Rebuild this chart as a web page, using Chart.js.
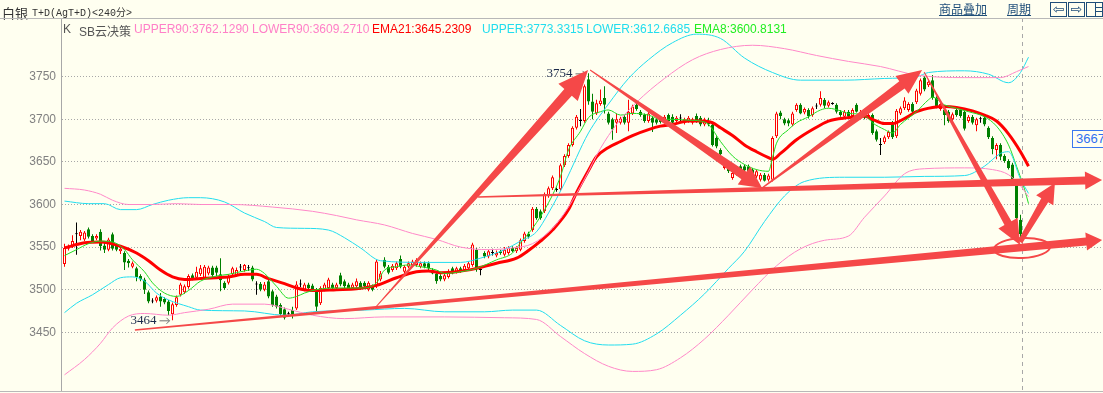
<!DOCTYPE html>
<html>
<head>
<meta charset="utf-8">
<script src="https://cdn.jsdelivr.net/npm/chart.js@4"></script>
<style>
  body { margin: 0; background: #FFFFF0; overflow: hidden; }
  #wrap { position: relative; width: 1103px; height: 393px; background: #FFFFF0; }
  canvas { position: absolute; left: 0; top: 0; }
  .t { position: absolute; white-space: nowrap; line-height: 1; }
  .lg { position: absolute; top: 22px; white-space: nowrap; line-height: 1; font: 12px "Liberation Sans", Arial, sans-serif; }
  .lk { position: absolute; top: 3px; font: 12px "Noto Sans CJK SC", sans-serif; color: #1F4E79; text-decoration: underline; line-height: 1; }
  .ic { position: absolute; top: 2px; width: 15px; height: 13px; border: 1px solid #1F4E79; color: #1F4E79;
        font: 14px "DejaVu Sans", sans-serif; line-height: 13px; text-align: center; }
</style>
</head>
<body>
<div id="wrap">
  <canvas id="myChart" width="1103" height="393"></canvas>

  <div class="t" style="left:2px;top:3px;font:13px 'Noto Sans CJK SC',sans-serif;color:#333">白银</div>
  <div class="t" style="left:32px;top:4px;font:10px 'Liberation Mono','Noto Sans CJK SC',monospace;color:#333">T+D(AgT+D)&lt;240分&gt;</div>
  <div class="lk" style="left:939px">商品叠加</div>
  <div class="lk" style="left:1007px">周期</div>
  <div class="ic" style="left:1050px">⇦</div>
  <div class="ic" style="left:1068px">⇨</div>
  <div class="ic" style="left:1086px">
    <div style="position:absolute;left:8px;top:0;width:1px;height:13px;background:#1F4E79"></div>
    <div style="position:absolute;left:9px;top:4px;width:6px;height:1px;background:#1F4E79"></div>
    <div style="position:absolute;left:9px;top:8px;width:6px;height:1px;background:#1F4E79"></div>
  </div>
  <div style="position:absolute;left:0;top:18px;width:1103px;height:1px;background:#B8B8B8"></div>
  <div style="position:absolute;left:0;top:391px;width:1103px;height:1px;background:#B8B8B8"></div>

  <div class="lg" style="left:63px;color:#555">K</div>
  <div class="lg" style="left:79px;color:#555;font-family:'Liberation Sans','Noto Sans CJK SC',sans-serif">SB云决策</div>
  <div class="lg" style="left:134px;color:#FF80C8">UPPER90:3762.1290</div>
  <div class="lg" style="left:252px;color:#FF80C8">LOWER90:3609.2710</div>
  <div class="lg" style="left:372px;color:#FF0000">EMA21:3645.2309</div>
  <div class="lg" style="left:482px;color:#22DDEE">UPPER:3773.3315</div>
  <div class="lg" style="left:586px;color:#22DDEE">LOWER:3612.6685</div>
  <div class="lg" style="left:694px;color:#22EE22">EMA8:3600.8131</div>

  <div class="t" style="left:1072px;top:130px;width:34px;height:16px;border:1px solid #3A78F0;color:#2F6FF0;font:13px 'Liberation Sans',Arial,sans-serif;line-height:16px;padding-left:3px;background:#FFFFF0">3667</div>
</div>

<script>
// 240分 K线 (240 candles)
const openP = [
  3530,3548,3551,3565,3563,3559,3571,3563,3560,3568,3552,3547,3565,3552,3545,3543,3534,3527,3525,3516,
  3512,3497,3486,3487,3492,3489,3486,3471,3482,3494,3497,3503,3517,3514,3518,3514,3519,3526,3526,3518,
  3508,3508,3518,3517,3526,3523,3525,3526,3506,3507,3500,3510,3498,3492,3482,3477,3471,3476,3478,3506,
  3500,3506,3505,3500,3484,3500,3502,3506,3502,3517,3510,3506,3502,3504,3508,3508,3500,3504,3504,3512,
  3535,3527,3523,3525,3536,3521,3527,3529,3529,3527,3531,3531,3523,3519,3516,3512,3515,3525,3521,3525,
  3523,3525,3529,3547,3523,3543,3539,3543,3540,3545,3541,3543,3549,3545,3547,3557,3566,3570,3595,3592,
  3592,3610,3619,3617,3618,3646,3657,3670,3690,3698,3698,3747,3721,3707,3718,3725,3707,3700,3696,3696,
  3703,3696,3707,3717,3709,3705,3698,3702,3700,3702,3698,3705,3703,3698,3701,3696,3698,3696,3704,3702,
  3694,3698,3694,3678,3664,3643,3645,3631,3643,3645,3645,3645,3641,3633,3629,3635,3629,3629,3680,3708,
  3700,3699,3694,3711,3717,3708,3711,3705,3715,3717,3723,3716,3718,3717,3709,3703,3709,3704,3717,3705,
  3708,3702,3705,3686,3670,3673,3679,3696,3680,3707,3713,3711,3718,3720,3730,3749,3740,3746,3725,3712,
  3711,3709,3700,3711,3711,3709,3698,3703,3693,3700,3702,3690,3678,3664,3670,3657,3651,3647,3625,3582
];
const highP = [
  3554,3553,3564,3579,3570,3569,3573,3565,3565,3571,3555,3561,3567,3554,3550,3545,3536,3533,3527,3518,
  3514,3499,3490,3493,3496,3491,3488,3485,3493,3508,3506,3518,3519,3527,3529,3529,3528,3528,3528,3537,
  3510,3518,3527,3526,3530,3530,3529,3528,3510,3509,3509,3512,3500,3494,3484,3479,3474,3480,3510,3512,
  3508,3508,3507,3502,3504,3508,3514,3508,3508,3520,3512,3508,3508,3513,3510,3510,3510,3506,3535,3522,
  3538,3529,3530,3533,3540,3529,3533,3535,3537,3533,3533,3533,3525,3521,3518,3520,3524,3527,3527,3527,
  3530,3533,3555,3549,3526,3545,3547,3548,3546,3547,3550,3551,3551,3551,3560,3568,3568,3597,3597,3594,
  3614,3621,3634,3620,3648,3659,3672,3692,3705,3712,3741,3754,3730,3723,3735,3739,3709,3702,3707,3703,
  3705,3723,3717,3719,3711,3707,3709,3704,3702,3704,3705,3707,3706,3704,3706,3702,3704,3702,3707,3704,
  3702,3702,3696,3680,3666,3649,3647,3639,3645,3647,3647,3647,3643,3641,3637,3637,3636,3680,3709,3710,
  3702,3701,3709,3719,3719,3714,3713,3715,3719,3733,3725,3722,3720,3719,3711,3711,3711,3713,3719,3711,
  3712,3708,3707,3688,3678,3681,3687,3698,3712,3715,3726,3720,3720,3736,3748,3751,3746,3752,3727,3720,
  3713,3711,3708,3713,3713,3711,3705,3705,3702,3703,3704,3692,3680,3672,3672,3659,3653,3649,3627,3588
];
const lowP = [
  3527,3546,3549,3541,3558,3557,3560,3555,3558,3546,3543,3545,3546,3545,3542,3523,3526,3525,3510,3510,
  3495,3484,3484,3485,3480,3483,3470,3464,3480,3492,3495,3501,3511,3512,3516,3512,3517,3515,3516,3498,
  3500,3506,3516,3515,3522,3521,3522,3510,3494,3498,3498,3490,3480,3478,3469,3465,3468,3466,3476,3503,
  3498,3500,3499,3474,3482,3498,3500,3500,3500,3504,3502,3500,3500,3502,3500,3502,3498,3498,3502,3510,
  3525,3518,3521,3523,3525,3519,3525,3527,3527,3525,3525,3523,3518,3507,3510,3510,3513,3518,3519,3520,
  3521,3523,3527,3521,3517,3537,3537,3540,3538,3541,3539,3541,3544,3543,3545,3555,3560,3568,3582,3582,
  3590,3608,3617,3615,3616,3644,3655,3668,3688,3692,3696,3717,3700,3705,3716,3707,3694,3676,3684,3694,
  3694,3686,3705,3710,3703,3696,3696,3685,3694,3695,3696,3696,3694,3696,3698,3694,3696,3694,3696,3692,
  3692,3692,3668,3666,3657,3641,3637,3629,3634,3637,3638,3637,3633,3631,3627,3627,3627,3627,3678,3700,
  3693,3692,3692,3709,3706,3706,3701,3703,3712,3715,3713,3714,3717,3707,3703,3701,3701,3702,3708,3702,
  3700,3700,3682,3674,3658,3671,3677,3677,3678,3705,3711,3709,3707,3718,3728,3733,3738,3723,3713,3710,
  3693,3696,3698,3703,3702,3687,3696,3694,3686,3696,3692,3677,3659,3653,3652,3649,3641,3628,3580,3560
];
const closeP = [
  3549,3551,3557,3565,3568,3567,3562,3557,3563,3551,3547,3559,3548,3547,3548,3532,3531,3531,3515,3512,
  3500,3486,3486,3491,3486,3485,3475,3483,3491,3506,3504,3516,3513,3521,3525,3527,3526,3517,3520,3511,
  3502,3516,3525,3523,3526,3529,3525,3512,3506,3500,3506,3492,3482,3480,3471,3467,3471,3470,3506,3506,
  3506,3502,3500,3480,3502,3506,3512,3502,3506,3506,3504,3502,3506,3510,3502,3504,3508,3500,3533,3519,
  3527,3520,3528,3531,3527,3527,3531,3533,3535,3531,3527,3525,3519,3510,3512,3517,3521,3519,3525,3521,
  3528,3531,3553,3525,3523,3539,3545,3543,3543,3543,3547,3549,3545,3549,3558,3566,3562,3595,3584,3584,
  3612,3619,3632,3617,3646,3657,3670,3690,3703,3698,3739,3721,3709,3719,3722,3717,3696,3688,3700,3701,
  3696,3709,3715,3712,3705,3698,3707,3696,3696,3697,3703,3698,3696,3702,3701,3700,3702,3700,3698,3694,
  3700,3694,3670,3668,3659,3647,3639,3637,3636,3639,3640,3638,3635,3639,3635,3628,3634,3678,3707,3704,
  3695,3695,3707,3717,3707,3712,3704,3713,3715,3725,3716,3720,3718,3709,3705,3709,3703,3711,3709,3709,
  3702,3705,3684,3676,3670,3679,3685,3679,3710,3713,3722,3718,3709,3734,3746,3735,3744,3725,3715,3718,
  3705,3698,3706,3705,3704,3689,3703,3696,3700,3700,3694,3679,3665,3670,3656,3651,3643,3630,3584,3565
];

// indicator lines as [candle index, price]
const ema21 = [[0,3549],[5,3555],[9,3556],[14,3551],[18,3543],[21,3534],[24,3523],[27,3515],[30,3512],[34,3513],
  [38,3514],[41,3515],[45,3518],[48,3518],[51,3513],[55,3507],[58,3502],[62,3499],[68,3500],[73,3501],[78,3505],
  [83,3514],[88,3521],[91,3522],[94,3520],[98,3521],[103,3525],[108,3531],[113,3537],[116,3546],[119,3557],
  [122,3570],[126,3594],[128,3614],[131,3640],[133,3656],[136,3667],[139,3674],[142,3681],[146,3688],[149,3692],
  [152,3694],[156,3698],[159,3698],[162,3696],[164,3690],[167,3681],[170,3670],[173,3662],[176,3655],[177,3653],
  [179,3660],[183,3676],[187,3688],[191,3698],[196,3702],[200,3704],[202,3700],[205,3695],[207,3695],[210,3701],
  [213,3709],[217,3714],[220,3715],[223,3714],[227,3710],[230,3705],[233,3698],[236,3683],[239,3662],[241,3645]];
const ema8 = [[0,3540],[3,3547],[6,3554],[9,3557],[12,3556],[15,3547],[17,3535],[20,3521],[22,3508],[25,3496],
  [28,3492],[31,3499],[34,3510],[38,3516],[41,3518],[45,3522],[48,3524],[50,3519],[53,3504],[56,3490],[58,3492],
  [60,3496],[63,3500],[68,3502],[74,3502],[78,3508],[80,3523],[83,3527],[86,3529],[89,3527],[93,3523],[95,3519],
  [99,3521],[103,3525],[108,3535],[112,3543],[114,3555],[117,3572],[121,3602],[124,3633],[126,3664],[129,3686],
  [131,3702],[134,3709],[136,3711],[139,3705],[142,3707],[146,3705],[149,3700],[152,3700],[156,3699],[159,3698],
  [161,3694],[164,3674],[167,3657],[170,3647],[173,3641],[176,3639],[177,3655],[178,3672],[181,3688],[183,3696],
  [186,3703],[189,3711],[191,3713],[194,3710],[196,3707],[200,3705],[202,3696],[205,3688],[207,3684],[209,3694],
  [213,3709],[216,3723],[217,3726],[220,3717],[223,3713],[226,3709],[230,3703],[233,3692],[236,3670],[238,3645],
  [240,3618],[241,3601]];
const upper = [[0,3604],[6,3601],[10,3601],[14,3594],[18,3594],[22,3600],[26,3605],[31,3608],[34,3608],[40,3603],
  [45,3590],[50,3580],[53,3573],[60,3572],[66,3570],[70,3561],[74,3549],[79,3534],[90,3532],[99,3532],[104,3537],
  [110,3547],[114,3557],[118,3568],[121,3590],[125,3625],[131,3684],[136,3718],[141,3748],[146,3770],[152,3790],
  [158,3800],[164,3795],[170,3772],[177,3755],[184,3746],[195,3746],[205,3748],[213,3750],[216,3755],[225,3757],
  [231,3753],[236,3743],[239,3755],[241,3773]];
const lower = [[0,3473],[3,3484],[7,3494],[11,3506],[14,3514],[17,3515],[20,3510],[23,3496],[26,3488],[31,3480],
  [34,3476],[45,3475],[55,3470],[62,3474],[75,3476],[85,3478],[95,3474],[105,3474],[112,3476],[118,3476],
  [124,3458],[130,3440],[136,3435],[142,3436],[148,3448],[154,3470],[160,3495],[166,3525],[170,3545],[175,3580],
  [180,3610],[185,3627],[195,3632],[205,3632],[215,3633],[225,3634],[230,3645],[234,3660],[236,3662],[239,3630],
  [241,3613]];
const upper90 = [[0,3619],[5,3617],[9,3612],[12,3605],[16,3600],[22,3600],[28,3601],[34,3600],[42,3600],[52,3597],
  [62,3592],[68,3587],[73,3582],[80,3576],[87,3566],[93,3559],[99,3550],[106,3547],[112,3549],[117,3554],
  [122,3572],[126,3597],[130,3630],[134,3666],[138,3694],[143,3720],[150,3748],[157,3770],[164,3782],[172,3787],
  [180,3783],[188,3775],[196,3768],[204,3762],[213,3752],[225,3749],[234,3749],[238,3756],[241,3762]];
const lower90 = [[0,3400],[5,3418],[9,3437],[12,3455],[16,3469],[20,3472],[26,3470],[30,3473],[36,3477],[42,3483],
  [50,3483],[56,3477],[62,3470],[70,3466],[80,3468],[95,3468],[110,3467],[118,3465],[124,3445],[130,3425],
  [136,3410],[142,3404],[148,3406],[154,3420],[160,3442],[166,3470],[172,3500],[178,3528],[184,3548],[190,3558],
  [196,3563],[200,3585],[205,3610],[210,3636],[215,3642],[225,3643],[232,3641],[236,3635],[239,3622],[241,3609]];

const yTicks = [3450, 3500, 3550, 3600, 3650, 3700, 3750];
const cursorIndex = 239.4;
const hiLabel = [131, 3754];
const loLabel = [27, 3464];

// hand drawn arrows [fromIndex, fromPrice, toIndex, toPrice]
const arrows = [
  [17.6, 3452.6, 259.4, 3558.3],
  [103.4, 3608.8, 259.4, 3628.8],
  [77.6, 3478.5, 130.9, 3757.9],
  [131.4, 3757.9, 174.4, 3619.4],
  [174.4, 3619.4, 214.4, 3757.9],
  [214.9, 3755.6, 238.9, 3552.4],
  [238.9, 3556.0, 247.6, 3625.2]
];
const arrowStyle = [
  { tail: 1.5, shaft: 8, head: 16, wing: 9 },
  { tail: 1.5, shaft: 8, head: 17, wing: 9 },
  { tail: 1, shaft: 10, head: 30, wing: 13 },
  { tail: 1, shaft: 9, head: 22, wing: 11 },
  { tail: 1.5, shaft: 9, head: 25, wing: 11 },
  { tail: 1, shaft: 8, head: 25, wing: 11 },
  { tail: 5, shaft: 8, head: 20, wing: 10 }
];
const ringCenter = [239.4, 3548.9];

const idx = closeP.map((_, i) => i);
const candleColor = idx.map(i => closeP[i] > openP[i] ? '#FF0000' : (closeP[i] < openP[i] ? '#008000' : '#000000'));
const bodyFill = idx.map(i => closeP[i] > openP[i] ? '#FFFFF0' : candleColor[i]);

const lineSet = (pts, color, width) => ({
  type: 'line',
  data: pts.map(p => ({ x: p[0], y: p[1] })),
  borderColor: color,
  borderWidth: width,
  pointRadius: 0,
  fill: false,
  cubicInterpolationMode: 'monotone',
  order: 0
});

const drawArrow = (ctx, x0, y0, x1, y1, st) => {
  const len = Math.hypot(x1 - x0, y1 - y0);
  const ux = (x1 - x0) / len, uy = (y1 - y0) / len;
  const nx = -uy, ny = ux;
  const bx = x1 - ux * st.head, by = y1 - uy * st.head;
  ctx.beginPath();
  ctx.moveTo(x0 + nx * st.tail / 2, y0 + ny * st.tail / 2);
  ctx.lineTo(bx + nx * st.shaft / 2, by + ny * st.shaft / 2);
  ctx.lineTo(bx + nx * st.wing, by + ny * st.wing);
  ctx.lineTo(x1, y1);
  ctx.lineTo(bx - nx * st.wing, by - ny * st.wing);
  ctx.lineTo(bx - nx * st.shaft / 2, by - ny * st.shaft / 2);
  ctx.lineTo(x0 - nx * st.tail / 2, y0 - ny * st.tail / 2);
  ctx.closePath();
  ctx.fill();
};

const drawMark = (ctx, x, y, text) => {
  ctx.font = '13px "Liberation Serif", serif';
  ctx.fillStyle = '#1B2A4A';
  ctx.textAlign = 'right';
  ctx.textBaseline = 'middle';
  ctx.fillText(text, x - 16, y);
  ctx.strokeStyle = '#707070';
  ctx.lineWidth = 1;
  ctx.beginPath();
  ctx.moveTo(x - 13, y + 0.5); ctx.lineTo(x - 3, y + 0.5);
  ctx.moveTo(x - 6, y - 2.5); ctx.lineTo(x - 3, y + 0.5); ctx.lineTo(x - 6, y + 3.5);
  ctx.stroke();
};

const annotations = {
  id: 'annotations',
  beforeDatasetsDraw(chart) {
    const { ctx, chartArea, scales: { x } } = chart;
    const cx = Math.round(x.getPixelForValue(cursorIndex)) + 0.5;
    ctx.save();
    ctx.strokeStyle = '#A8A8A8';
    ctx.lineWidth = 1;
    ctx.setLineDash([4, 4]);
    ctx.beginPath();
    ctx.moveTo(cx, chartArea.top);
    ctx.lineTo(cx, chartArea.bottom);
    ctx.stroke();
    ctx.restore();
  },
  afterDatasetsDraw(chart) {
    const { ctx, scales: { x, y } } = chart;
    ctx.save();
    drawMark(ctx, x.getPixelForValue(hiLabel[0]), y.getPixelForValue(hiLabel[1]), String(hiLabel[1]));
    drawMark(ctx, x.getPixelForValue(loLabel[0]), y.getPixelForValue(loLabel[1]), String(loLabel[1]));

    ctx.fillStyle = '#F54848';
    arrows.forEach((a, k) => {
      drawArrow(ctx, x.getPixelForValue(a[0]), y.getPixelForValue(a[1]),
        x.getPixelForValue(a[2]), y.getPixelForValue(a[3]), arrowStyle[k]);
    });
    ctx.strokeStyle = '#F54848';
    ctx.lineWidth = 2;
    ctx.beginPath();
    ctx.ellipse(x.getPixelForValue(ringCenter[0]), y.getPixelForValue(ringCenter[1]), 28, 10, -0.05, 0, Math.PI * 2);
    ctx.stroke();
    ctx.restore();
  }
};

const ctx = document.getElementById('myChart').getContext('2d');
new Chart(ctx, {
  type: 'bar',
  data: {
    datasets: [
      lineSet(upper90, '#FF88C8', 1),
      lineSet(lower90, '#FF88C8', 1),
      lineSet(upper, '#22DDEE', 1),
      lineSet(lower, '#22DDEE', 1),
      lineSet(ema8, '#22DD22', 1),
      lineSet(ema21, '#FF0000', 3),
      {
        data: idx.map(i => ({ x: i, y: [openP[i], closeP[i]] })),
        backgroundColor: bodyFill,
        borderColor: candleColor,
        borderWidth: 1,
        borderSkipped: false,
        barThickness: 3,
        minBarLength: 1,
        inflateAmount: 0,
        grouped: false,
        order: 1
      },
      {
        data: idx.map(i => ({ x: i, y: [lowP[i], highP[i]] })),
        backgroundColor: candleColor,
        borderWidth: 0,
        barThickness: 1,
        inflateAmount: 0,
        grouped: false,
        order: 2
      }
    ]
  },
  options: {
    responsive: false,
    animation: false,
    events: [],
    layout: { padding: { top: 18, bottom: 2, left: 0, right: 0 } },
    plugins: { legend: { display: false }, tooltip: { enabled: false } },
    scales: {
      x: { type: 'linear', min: -0.875, max: 259.625, offset: false, display: false },
      y: {
        min: 3381,
        max: 3819,
        position: 'left',
        afterBuildTicks: (s) => { s.ticks = yTicks.map(v => ({ value: v })); },
        afterFit: (s) => { s.width = 61; s.paddingTop = 0; s.paddingBottom = 0; },
        ticks: {
          color: '#808080',
          padding: 5,
          font: { family: '"Liberation Sans", Arial, sans-serif', size: 12 },
          callback: (v) => String(v)
        },
        grid: { color: '#A8A8A8', drawTicks: false, lineWidth: 1 },
        border: { color: '#A8A8A8', width: 1, dash: [1, 2] }
      }
    }
  },
  plugins: [annotations]
});
</script>
</body>
</html>
